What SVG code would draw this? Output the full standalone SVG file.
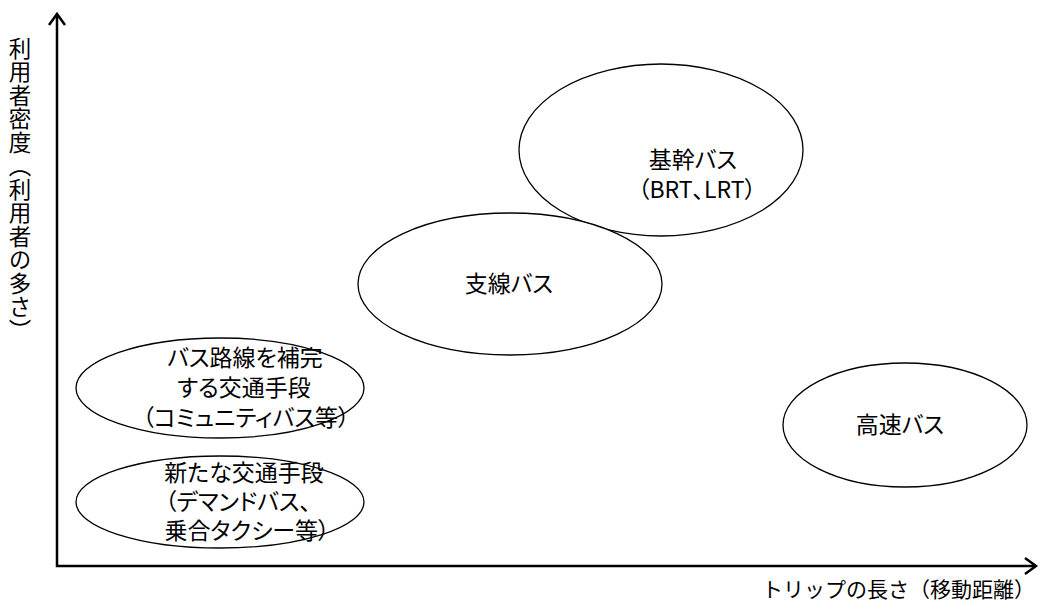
<svg xmlns="http://www.w3.org/2000/svg" width="1040" height="604" viewBox="0 0 1040 604">
<style>
.t{font-family:"Noto Sans CJK JP","Liberation Sans",sans-serif;font-size:23px;fill:#000;text-anchor:middle;font-feature-settings:"palt"}
.e{fill:#fff;stroke:#000;stroke-width:1.3}
.ax{fill:none;stroke:#000;stroke-width:2.5}
</style>
<rect width="1040" height="604" fill="#fff"/>
<g id="axes">
<polyline class="ax" points="57,14 57,566 1036,566"/>
<polyline class="ax" points="49,25 57,14 65,25"/>
<polyline class="ax" points="1025,558 1036,566 1025,574"/>
</g>
<text class="t" x="20" y="37" style="writing-mode:vertical-rl;text-anchor:start;font-size:22.5px;letter-spacing:1px;font-feature-settings:normal">利用者密度（利用者の多さ）</text>
<text class="t" x="1035" y="597" style="text-anchor:end;font-size:21px;font-feature-settings:normal">トリップの長さ（移動距離）</text>
<g id="kansen">
<ellipse class="e" cx="661" cy="150" rx="142" ry="86"/>
<text class="t" x="693" y="168">基幹バス</text>
<text class="t" x="697" y="198">（BRT、LRT）</text>
</g>
<g id="shisen">
<ellipse class="e" cx="510" cy="284" rx="152" ry="71"/>
<text class="t" x="509" y="292">支線バス</text>
</g>
<g id="kosoku">
<ellipse class="e" cx="905" cy="425" rx="122" ry="62"/>
<text class="t" x="900" y="433">高速バス</text>
</g>
<g id="hokan">
<ellipse class="e" cx="220" cy="388" rx="144" ry="50"/>
<text class="t" x="245" y="366">バス路線を補完</text>
<text class="t" x="244" y="396">する交通手段</text>
<text class="t" x="246" y="426">（コミュニティバス等）</text>
</g>
<g id="atarashii">
<ellipse class="e" cx="220" cy="502" rx="144" ry="46"/>
<text class="t" x="244" y="481">新たな交通手段</text>
<text class="t" x="238" y="510">（デマンドバス、</text>
<text class="t" x="247" y="539">乗合タクシー等）</text>
</g>
</svg>
